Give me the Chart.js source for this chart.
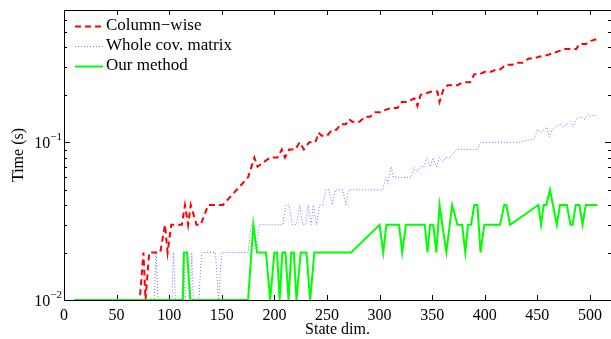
<!DOCTYPE html>
<html>
<head>
<meta charset="utf-8">
<script src="https://cdn.jsdelivr.net/npm/chart.js@4/dist/chart.umd.min.js"></script>
<style>
html,body{margin:0;padding:0;background:#fff;}
#wrap{width:611px;height:339px;}
</style>
</head>
<body>
<div id="wrap"><canvas id="c" width="611" height="339"></canvas></div>
<script>
// ---- data ----
const seriesNames = ['Column\u2212wise', 'Whole cov. matrix', 'Our method'];
const xTicks = [0, 50, 100, 150, 200, 250, 300, 350, 400, 450, 500];
const yMajorTicks = [0.01, 0.1];
const yMinorTicks = [0.02,0.03,0.04,0.05,0.06,0.07,0.08,0.09,0.2,0.3,0.4,0.5,0.6];

const colWise = [[10,0.01],[72,0.01],[75.5,0.02],[77.5,0.01],[81,0.02],[91.5,0.02],[96,0.03],[98.5,0.02],[102,0.03],[112,0.03],[115,0.04],[118,0.03],[120.5,0.04],[126,0.03],[130,0.03],[137,0.04],[151,0.04],[175,0.06],[181,0.08],[184,0.07],[190,0.075],[196,0.08],[203,0.08],[207,0.09],[210,0.08],[214,0.09],[220,0.09],[224,0.10],[228,0.09],[233,0.10],[239,0.10],[242,0.115],[245,0.11],[250,0.11],[255,0.12],[259,0.12],[263,0.13],[268,0.13],[271,0.14],[274,0.135],[281,0.135],[286,0.145],[291,0.145],[296,0.155],[301,0.155],[305,0.16],[311,0.165],[317,0.165],[321,0.18],[326,0.18],[333,0.19],[336,0.17],[339,0.2],[350,0.21],[355,0.21],[357,0.18],[361,0.22],[365,0.23],[374,0.23],[379,0.24],[386,0.24],[390,0.27],[395,0.27],[400,0.28],[406,0.28],[411,0.29],[415,0.29],[420,0.31],[426,0.31],[431,0.32],[436,0.32],[442,0.34],[447,0.34],[452,0.35],[455,0.35],[461,0.36],[466,0.37],[471,0.38],[476,0.39],[480,0.39],[487,0.39],[490,0.42],[496,0.42],[501,0.44],[506,0.45]];

const wholeCov = [[10,0.01],[86,0.01],[87.5,0.02],[89.5,0.01],[102.5,0.01],[104,0.02],[106,0.01],[112,0.01],[113.5,0.02],[115.5,0.01],[120,0.01],[121.5,0.02],[123,0.01],[128,0.01],[131,0.02],[144,0.02],[147,0.01],[150,0.02],[175,0.02],[178,0.03],[180,0.03],[183,0.02],[185.5,0.03],[208,0.03],[211,0.04],[214,0.04],[217,0.03],[221,0.03],[224,0.04],[227,0.03],[230,0.03],[232,0.04],[235,0.03],[237,0.04],[240,0.03],[243,0.04],[246,0.04],[249,0.05],[252,0.05],[255,0.04],[258,0.05],[265,0.05],[268,0.04],[271,0.05],[303,0.05],[306,0.06],[308,0.055],[311,0.07],[313,0.06],[330,0.06],[333,0.07],[336,0.065],[339,0.07],[342,0.07],[345,0.08],[348,0.07],[351,0.08],[354,0.07],[357,0.08],[360,0.075],[363,0.08],[367,0.08],[370,0.085],[374,0.09],[380,0.09],[393,0.09],[396,0.1],[398,0.1],[428,0.1],[432,0.1],[447,0.105],[450,0.12],[453,0.115],[456,0.12],[459,0.125],[461.5,0.108],[464,0.12],[467,0.125],[472,0.13],[475,0.125],[478,0.13],[481,0.135],[484,0.125],[487,0.14],[491,0.145],[495,0.14],[498,0.15],[501,0.145],[504,0.15],[507,0.145]];

const ourMethod = [[10,0.01],[113,0.01],[114,0.02],[117,0.02],[120,0.01],[175,0.01],[180,0.03],[183.5,0.02],[192,0.02],[196,0.01],[200,0.02],[202.5,0.02],[205,0.01],[207.5,0.02],[210.5,0.02],[213.5,0.01],[216,0.02],[218.5,0.02],[221,0.01],[225,0.02],[230.5,0.02],[234,0.01],[238,0.02],[273,0.02],[300,0.03],[303.5,0.02],[306.5,0.03],[318.5,0.03],[321.5,0.02],[325,0.03],[343,0.03],[345.5,0.02],[348,0.03],[351,0.03],[354,0.02],[357,0.04],[363.5,0.02],[369,0.04],[374,0.03],[378.5,0.03],[381.5,0.02],[384,0.03],[387,0.03],[390,0.04],[393,0.04],[396,0.02],[399.5,0.03],[414.5,0.03],[418.5,0.04],[420.5,0.04],[424,0.03],[451,0.04],[453.5,0.03],[456,0.04],[458.5,0.04],[462,0.05],[468.5,0.03],[471.5,0.04],[478,0.04],[481.5,0.03],[483.5,0.03],[486.5,0.04],[490,0.04],[493,0.03],[496,0.04],[507,0.04]];

const FONT = "'Liberation Serif', 'Times New Roman', serif";
const toPts = arr => arr.map(p => ({x: p[0], y: p[1]}));

const styles = [
  {color: '#ff0000', width: 2, dash: [6, 4]},
  {color: '#7373ff', width: 1, dash: [1, 2]},
  {color: '#00ff00', width: 2, dash: []}
];

const framePlugin = {
  id: 'frame',
  beforeDatasetsDraw(chart) {
    const {ctx, chartArea: a, scales: {x, y}} = chart;
    ctx.save();
    ctx.strokeStyle = '#000';
    ctx.lineWidth = 1;
    ctx.setLineDash([]);
    ctx.strokeRect(a.left + 0.5, a.top + 0.5, a.right - a.left, a.bottom - a.top);
    ctx.beginPath();
    xTicks.forEach(v => {
      const px = Math.round(x.getPixelForValue(v)) + 0.5;
      ctx.moveTo(px, a.bottom); ctx.lineTo(px, a.bottom - 5);
      ctx.moveTo(px, a.top); ctx.lineTo(px, a.top + 5);
    });
    yMajorTicks.forEach(v => {
      const py = Math.round(y.getPixelForValue(v)) + 0.5;
      ctx.moveTo(a.left, py); ctx.lineTo(a.left + 6, py);
      ctx.moveTo(a.right, py); ctx.lineTo(a.right - 6, py);
    });
    yMinorTicks.forEach(v => {
      const py = Math.round(y.getPixelForValue(v)) + 0.5;
      ctx.moveTo(a.left, py); ctx.lineTo(a.left + 3, py);
      ctx.moveTo(a.right, py); ctx.lineTo(a.right - 3, py);
    });
    ctx.stroke();
    ctx.restore();
  },
  afterDraw(chart) {
    const {ctx, chartArea: a, scales: {y}} = chart;
    ctx.save();
    ctx.fillStyle = '#000';
    // y tick labels with superscript exponents
    yMajorTicks.forEach(v => {
      const py = y.getPixelForValue(v);
      const exp = '\u2212' + Math.round(-Math.log10(v));
      ctx.font = '11px ' + FONT;
      ctx.textAlign = 'right';
      ctx.textBaseline = 'alphabetic';
      const right = a.left - 2;
      const w = ctx.measureText(exp).width;
      ctx.fillText(exp, right, py - 2);
      ctx.font = '16px ' + FONT;
      ctx.fillText('10', right - w, py + 6);
    });
    // legend
    const rows = [26, 46, 66];
    chart.data.datasets.forEach((ds, i) => {
      const ry = rows[i];
      ctx.strokeStyle = ds.borderColor;
      ctx.lineWidth = ds.borderWidth;
      ctx.setLineDash(ds.borderDash || []);
      ctx.beginPath();
      ctx.moveTo(75, ry + 0.5);
      ctx.lineTo(103, ry + 0.5);
      ctx.stroke();
      ctx.setLineDash([]);
      ctx.font = '17px ' + FONT;
      ctx.textAlign = 'left';
      ctx.textBaseline = 'middle';
      ctx.fillStyle = '#000';
      ctx.fillText(ds.label, 106, ry);
    });
    ctx.restore();
  }
};

const datasets = [colWise, wholeCov, ourMethod].map((s, i) => ({
  label: seriesNames[i],
  data: toPts(s),
  borderColor: styles[i].color,
  borderWidth: styles[i].width,
  borderDash: styles[i].dash,
  pointRadius: 0,
  tension: 0,
  fill: false,
  order: 2 - i
}));

new Chart(document.getElementById('c'), {
  type: 'line',
  data: {datasets},
  plugins: [framePlugin],
  options: {
    responsive: false,
    animation: false,
    devicePixelRatio: 1,
    layout: {padding: {top: 10, right: 0, left: 0, bottom: 0}},
    plugins: {legend: {display: false}, tooltip: {enabled: false}},
    scales: {
      x: {
        type: 'linear',
        min: 0, max: 520,
        grid: {display: false, drawTicks: false},
        border: {display: false},
        afterBuildTicks: s => { s.ticks = xTicks.map(v => ({value: v})); },
        afterFit: s => { s.height = 39; },
        ticks: {color: '#000', font: {family: FONT, size: 16}, padding: 6, maxRotation: 0, autoSkip: false},
        title: {display: true, text: 'State dim.', color: '#000', font: {family: FONT, size: 16, lineHeight: 1.2}, padding: {top: 0, bottom: 0}}
      },
      y: {
        type: 'logarithmic',
        min: 0.01, max: 0.69,
        grid: {display: false, drawTicks: false},
        border: {display: false},
        ticks: {display: false},
        afterFit: s => { s.width = 64; },
        title: {display: true, text: 'Time (s)', color: '#000', font: {family: FONT, size: 16, lineHeight: 1.2}, padding: {top: 9, bottom: 0}}
      }
    }
  }
});
</script>
</body>
</html>
